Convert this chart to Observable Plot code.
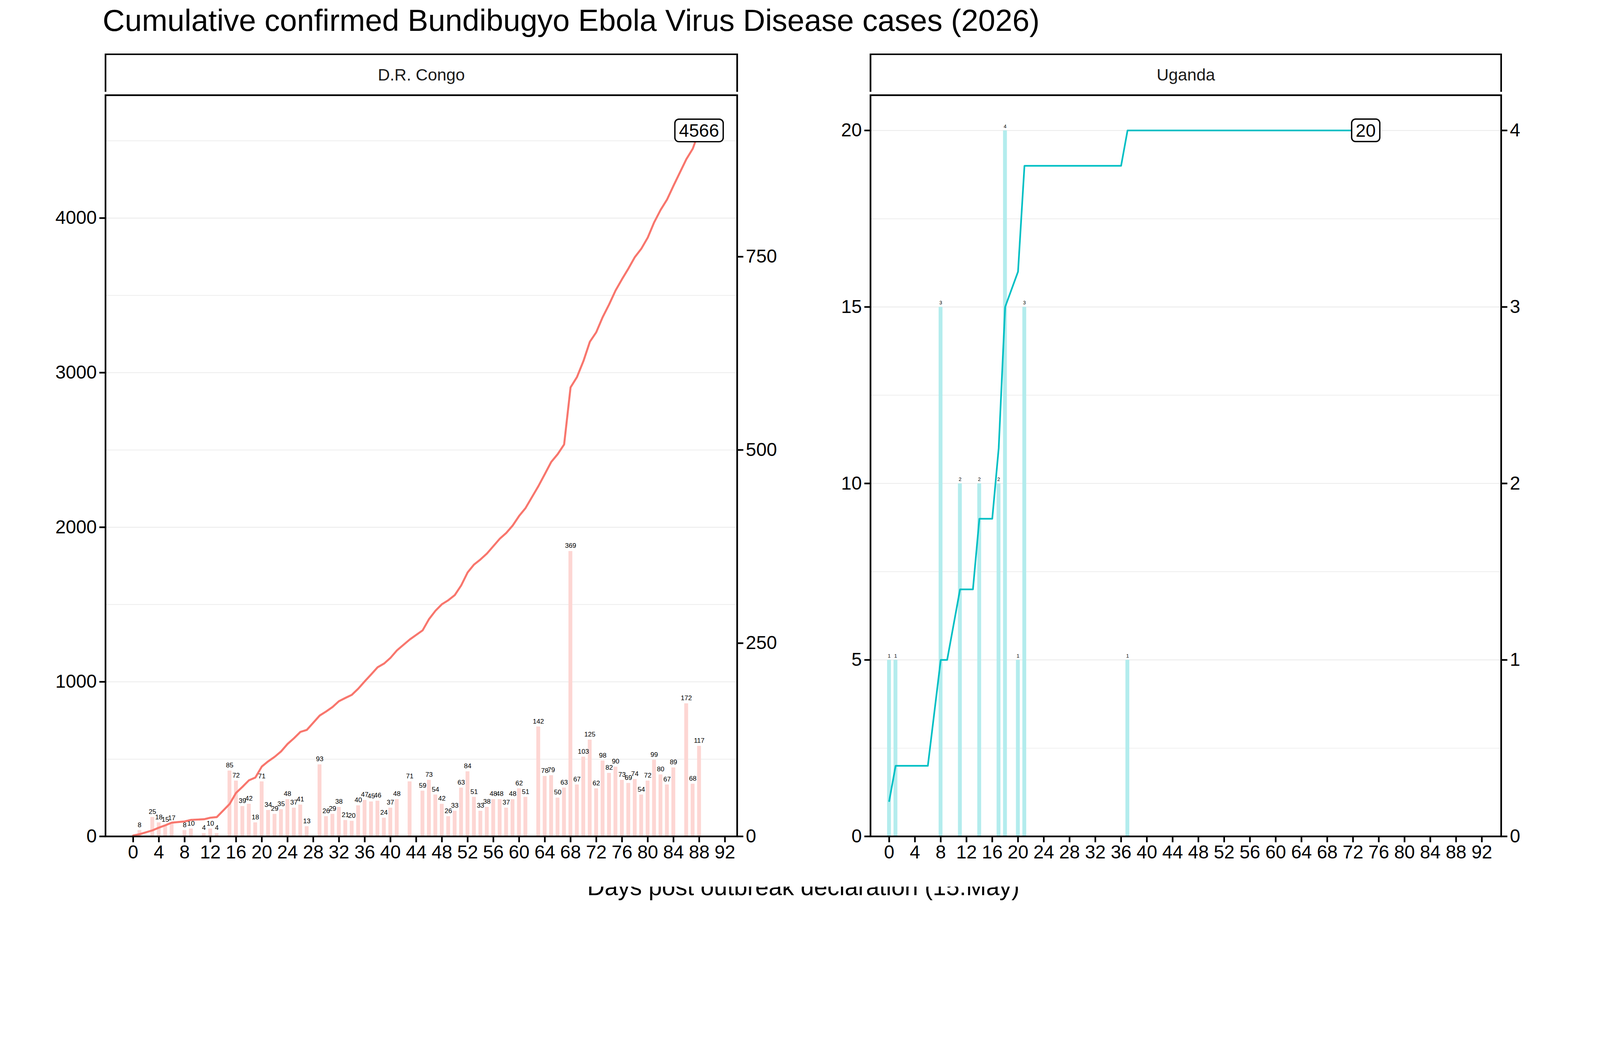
<!DOCTYPE html>
<html><head><meta charset="utf-8">
<script src="https://cdn.jsdelivr.net/npm/d3@7"></script>
<script src="https://cdn.jsdelivr.net/npm/@observablehq/plot@0.6"></script>
<style>
html,body{margin:0;background:#fff;font-family:"Liberation Sans",Arial,sans-serif;overflow:hidden;}
#wrap{position:relative;width:4800px;height:2700px;overflow:hidden;transform-origin:0 0;}
.abs{position:absolute;}
.strip{position:absolute;border:5px solid #000;box-sizing:border-box;display:flex;align-items:center;justify-content:center;font-size:50px;color:#1a1a1a;background:#fff;}
</style></head><body>
<div id="wrap">
<div class="abs" style="left:308px;top:8px;font-size:92px;color:#000;">Cumulative confirmed Bundibugyo Ebola Virus Disease cases (2026)</div>
<div class="strip" style="left:314px;top:160px;width:1900px;height:128px;">D.R. Congo</div>
<div class="strip" style="left:2609px;top:160px;width:1897px;height:128px;">Uganda</div>
<div class="abs" style="left:56px;top:1396px;font-size:72px;transform:translate(-50%,-50%) rotate(-90deg);white-space:nowrap;">Cumulative confirmed cases</div>
<div class="abs" style="left:4660px;top:1396px;font-size:72px;transform:translate(-50%,-50%) rotate(90deg);white-space:nowrap;">New Daily Cases (Bars)</div>
<div class="abs" style="left:2410px;top:2660px;font-size:72px;transform:translate(-50%,-50%);white-space:nowrap;">Days post outbreak declaration (15.May)</div>
<div id="drc" class="abs" style="left:0;top:275px;"></div>
<div id="uga" class="abs" style="left:2400px;top:275px;"></div>
</div>
<script>
// D.R. Congo daily new confirmed cases
const drcDays = [1,3,4,5,6,8,9,11,12,13,15,16,17,18,19,20,21,22,23,24,25,26,27,29,30,31,32,33,34,35,36,37,38,39,40,41,43,45,46,47,48,49,50,51,52,53,54,55,56,57,58,59,60,61,63,64,65,66,67,68,69,70,71,72,73,74,75,76,77,78,79,80,81,82,83,84,86,87,88];
const drcNew  = [8,25,18,15,17,8,10,4,10,4,85,72,39,42,18,71,34,29,35,48,37,41,13,93,26,29,38,21,20,40,47,45,46,24,37,48,71,59,73,54,42,26,33,63,84,51,33,38,48,48,37,48,62,51,142,78,79,50,63,369,67,103,125,62,98,82,90,73,69,74,54,72,99,80,67,89,172,68,117];
const drcStart = 6;
// Uganda
const ugaDays = [0,1,8,11,14,17,18,20,21,37];
const ugaNew  = [1,1,3,2,2,2,4,1,3,1];
const ugaCumDays = [0,1,6,8,9,11,13,14,16,17,18,20,21,36,37,74];
const ugaCum     = [1,2,2,5,5,7,7,9,9,11,15,16,19,19,20,20];
const xTicks = d3.range(0,93,4);

const s = Math.min(document.documentElement.clientWidth/4800, document.documentElement.clientHeight/2700);
if (s && Math.abs(s-1)>0.01) document.getElementById("wrap").style.transform = `scale(${s})`;

// DRC cumulative at each reporting day (start value + running sum)
const drcCum = [{day:0, cum:drcStart}];
{ let c = drcStart; drcDays.forEach((d,i)=>{ c += drcNew[i]; drcCum.push({day:d, cum:c}); }); }

function panel(el, opts){
  const {bars, line, color, barColor, xDomain, yMax, yTicks, yMinor, rTicks, ml, mr, labelSize, lastLabel, lw} = opts;
  const W=2400, H=2383, mt=10, mb=150;
  const p = Plot.plot({
    width:W, height:H, marginTop:mt, marginBottom:mb, marginLeft:ml, marginRight:mr,
    style:{fontFamily:"Liberation Sans, Arial, sans-serif", fontSize:"56px", color:"#000", background:"#fff", maxWidth:"none"},
    x:{domain:xDomain}, y:{domain:[0,yMax]},
    marks:[
      Plot.ruleY(yMinor,{stroke:"#ebebeb",strokeWidth:2}),
      Plot.ruleY(yTicks,{stroke:"#ebebeb",strokeWidth:2.5}),
      Plot.rectY(bars,{x1:d=>d.day-0.3,x2:d=>d.day+0.3,y1:0,y2:d=>d.v*5,fill:barColor}),
      Plot.text(bars,{x:"day",y:d=>d.v*5,text:d=>String(d.v),dy:-labelSize*0.8,fontSize:labelSize,fill:"#000"}),
      Plot.line(line,{x:"day",y:"cum",stroke:color,strokeWidth:lw}),
      Plot.axisX({ticks:xTicks,tickSize:18,tickPadding:8,tickFormat:d=>String(d),label:null,strokeWidth:5}),
      Plot.axisY({ticks:yTicks,tickSize:18,tickPadding:8,tickFormat:d=>String(d),label:null,strokeWidth:5}),
      Plot.axisY({anchor:"right",ticks:rTicks.map(v=>v*5),tickFormat:d=>String(d/5),tickSize:18,tickPadding:8,label:null,strokeWidth:5}),
      Plot.frame({stroke:"#000",strokeWidth:5})
    ]
  });
  document.getElementById(el).appendChild(p);
  // boxed label at last value
  const ns="http://www.w3.org/2000/svg";
  const cx = p.scale("x").apply(lastLabel.day), cy = p.scale("y").apply(lastLabel.cum);
  const txt = String(lastLabel.cum), fs = 54, w = txt.length*fs*0.56+24, h = fs*1.25;
  const r=document.createElementNS(ns,"rect");
  r.setAttribute("x",cx-w/2); r.setAttribute("y",cy-h/2); r.setAttribute("width",w); r.setAttribute("height",h);
  r.setAttribute("rx",12); r.setAttribute("fill","#fff"); r.setAttribute("stroke","#000"); r.setAttribute("stroke-width",4);
  const t=document.createElementNS(ns,"text");
  t.setAttribute("x",cx); t.setAttribute("y",cy); t.setAttribute("dy","0.36em"); t.setAttribute("text-anchor","middle");
  t.setAttribute("font-size",fs); t.setAttribute("fill","#000"); t.textContent = txt;
  p.appendChild(r); p.appendChild(t);
}

panel("drc",{
  bars: drcDays.map((d,i)=>({day:d,v:drcNew[i]})), line: drcCum,
  color:"#F8766D", barColor:"#fdd6d3", xDomain:[-4.3,93.9], yMax:4795,
  yTicks:[0,1000,2000,3000,4000], yMinor:[500,1500,2500,3500,4500], rTicks:[0,250,500,750],
  ml:316, mr:189, labelSize:20, lastLabel:drcCum[drcCum.length-1], lw:6
});
panel("uga",{
  bars: ugaDays.map((d,i)=>({day:d,v:ugaNew[i]})), line: ugaCumDays.map((d,i)=>({day:d,cum:ugaCum[i]})),
  color:"#00BFC4", barColor:"#b3eced", xDomain:[-2.9,95], yMax:21,
  yTicks:[0,5,10,15,20], yMinor:[2.5,7.5,12.5,17.5], rTicks:[0,1,2,3,4],
  ml:211, mr:297, labelSize:15, lastLabel:{day:74,cum:20}, lw:5
});
</script>
</body></html>
